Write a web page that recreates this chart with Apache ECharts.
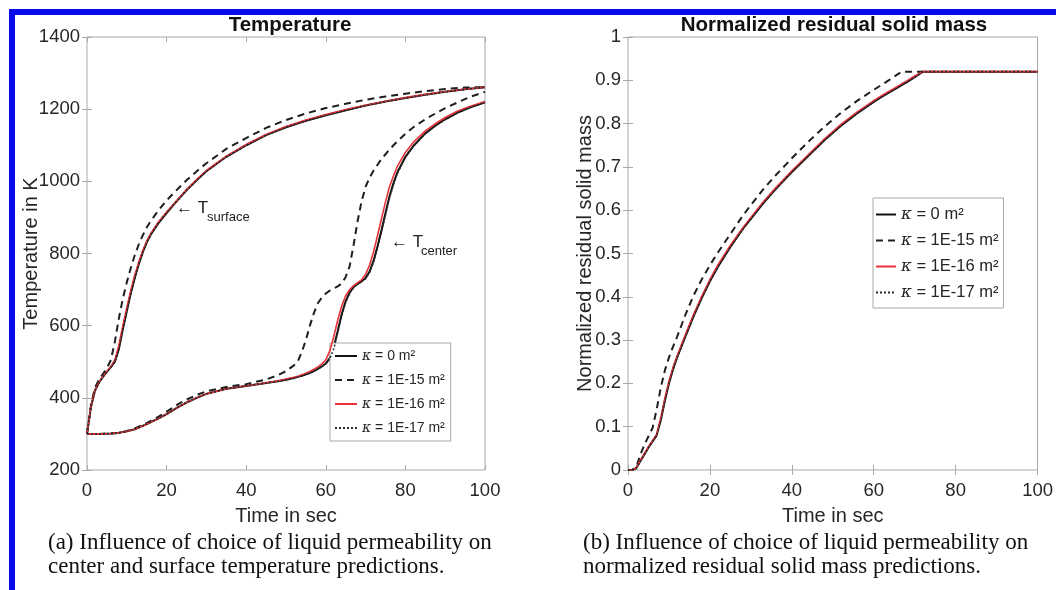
<!DOCTYPE html>
<html>
<head>
<meta charset="utf-8">
<script src="https://cdn.jsdelivr.net/npm/echarts@6/dist/echarts.min.js"></script>
<style>
  html, body { margin: 0; padding: 0; background: #fff; }
  #chart { width: 1056px; height: 590px; }
</style>
</head>
<body>
<div id="chart"></div>
<script>
// Permeability cases shown in both panels
const kappaValues = ['0', '1E-15', '1E-16', '1E-17'];

// Panel (a): surface temperature [K] vs time [s]
const tSurface = [0,1,2,3,4,5,6,7,8,9,10,11,12,13,14,15,16,18,20,22,25,28,30,35,40,45,50,55,60,65,70,75,80,85,90,95,100];
const surfK0   = [300,375,420,442,458,472,485,500,535,590,640,690,732,770,803,830,852,885,912,938,975,1008,1028,1068,1100,1128,1150,1168,1183,1197,1210,1221,1231,1240,1248,1255,1261];
const surfK15  = [300,380,428,450,466,482,505,555,620,675,720,760,795,825,850,872,890,920,947,970,1003,1032,1050,1090,1120,1148,1170,1188,1203,1215,1226,1235,1243,1250,1256,1260,1261];
const surfK16  = [300,376,421,443,459,473,487,505,545,600,650,698,740,776,808,834,855,888,915,940,977,1010,1030,1070,1102,1130,1152,1170,1185,1199,1211,1222,1232,1241,1249,1255,1261];
const surfK17  = [300,375,420,442,458,472,485,501,536,591,641,691,733,771,804,831,853,886,913,939,976,1008,1028,1068,1100,1128,1150,1168,1183,1197,1210,1221,1231,1240,1248,1255,1261];

// Panel (a): center temperature [K] vs time [s]
const tCenter  = [0,3,6,8,10,12,15,18,20,23,25,28,30,35,40,45,48,50,52,53,54,55,56,57,58,59,60,61,62,63,64,65,66,67,68,69,70,71,72,73,74,75,76,77,78,80,82,85,88,90,93,96,100];
const centK0   = [300,300,301,303,307,313,327,343,355,375,387,402,411,425,433,441,446,450,455,458,461,465,469,474,480,487,495,510,540,585,632,668,692,707,716,723,732,750,780,820,865,912,958,995,1025,1068,1098,1133,1158,1172,1190,1204,1219];
const centK15  = [300,300,301,303,308,315,330,348,362,383,395,410,418,430,438,451,463,474,490,502,528,560,600,635,662,678,689,697,703,709,717,735,765,825,890,945,985,1010,1030,1046,1062,1075,1088,1100,1111,1132,1150,1172,1191,1203,1218,1233,1248];
const centK16  = [300,300,301,303,307,313,327,343,355,375,387,402,411,425,433,442,447,452,457,460,464,468,473,479,486,494,505,530,570,615,655,683,700,711,719,727,742,768,805,850,897,943,985,1015,1042,1080,1108,1140,1163,1177,1194,1207,1221];
const centK17  = [300,300,301,303,307,313,327,343,355,375,387,402,411,425,433,441,446,450,455,458,461,465,469,474,480,486,494,508,536,580,627,665,690,706,715,722,730,747,776,815,860,907,953,991,1022,1066,1097,1132,1157,1171,1189,1204,1219];

// Panel (b): normalized residual solid mass vs time [s]
const tMass    = [0,1,2,3,4,5,6,7,8,9,10,11,12,14,16,18,20,22,25,28,30,33,36,40,44,48,52,56,60,62,64,66,67,68,70,72,75,80,90,100];
const massK0   = [0,0,0.004,0.02,0.036,0.052,0.066,0.08,0.115,0.16,0.2,0.233,0.26,0.308,0.355,0.397,0.436,0.47,0.515,0.556,0.58,0.616,0.648,0.688,0.725,0.762,0.795,0.824,0.85,0.862,0.873,0.884,0.89,0.895,0.907,0.92,0.92,0.92,0.92,0.92];
const massK15  = [0,0,0.006,0.035,0.058,0.078,0.097,0.14,0.19,0.23,0.26,0.285,0.308,0.358,0.403,0.44,0.473,0.503,0.545,0.587,0.612,0.648,0.68,0.72,0.758,0.793,0.825,0.853,0.878,0.89,0.902,0.915,0.92,0.92,0.92,0.92,0.92,0.92,0.92,0.92];
const massK16  = [0,0,0.005,0.022,0.038,0.054,0.068,0.083,0.12,0.166,0.205,0.237,0.264,0.312,0.359,0.401,0.44,0.474,0.519,0.559,0.583,0.619,0.651,0.691,0.728,0.765,0.798,0.827,0.853,0.865,0.876,0.887,0.893,0.898,0.91,0.92,0.92,0.92,0.92,0.92];
const massK17  = [0,0,0.004,0.02,0.036,0.052,0.066,0.08,0.115,0.16,0.2,0.233,0.26,0.308,0.355,0.397,0.436,0.47,0.515,0.556,0.58,0.616,0.648,0.688,0.725,0.762,0.795,0.824,0.85,0.862,0.873,0.884,0.89,0.895,0.907,0.92,0.92,0.92,0.92,0.92];

// Axis ticks
const timeTicks = { min: 0, max: 100, interval: 20 };
const tempTicks = { min: 200, max: 1400, interval: 200 };
const massTicks = { min: 0, max: 1, interval: 0.1 };

const SANS = '"Liberation Sans", Arial, sans-serif';
const SERIF = '"Liberation Serif", "DejaVu Serif", serif';
const TXT = '#262626';
const FRAME = '#a9a9a9';

const names = kappaValues.map(v => 'κ = ' + v + ' m²');
const styles = [
  { color: '#111111', width: 2, type: 'solid' },
  { color: '#1f1f1f', width: 2, type: [7, 5] },
  { color: '#e8323a', width: 1.6, type: 'solid' },
  { color: '#2a2a2a', width: 1.5, type: [2, 2] }
];

const zip = (xs, ys) => xs.map((x, i) => [x, ys[i]]);
const plainNum = v => String(Math.round(v * 1000) / 1000);

function axisPair(ticks, pos, grid, main, extra) {
  return Object.assign({
    type: 'value', gridIndex: grid, position: pos,
    min: ticks.min, max: ticks.max, interval: ticks.interval,
    axisLine: { show: false },
    axisTick: { show: true, inside: true, length: 5, lineStyle: { color: FRAME } },
    splitLine: { show: false },
    nameMoveOverlap: false,
    axisLabel: main
      ? { show: true, color: TXT, fontSize: 18.5, fontFamily: SANS, margin: (pos === 'bottom' ? 11 : 7), formatter: plainNum }
      : { show: false }
  }, extra || {});
}

const nameStyle = { color: TXT, fontSize: 20, fontFamily: SANS };

const xAxes = [
  axisPair(timeTicks, 'bottom', 0, true, { name: 'Time in sec', nameLocation: 'middle', nameGap: 36, nameTextStyle: nameStyle }),
  axisPair(timeTicks, 'top', 0, false),
  axisPair(timeTicks, 'bottom', 1, true, { name: 'Time in sec', nameLocation: 'middle', nameGap: 36, nameTextStyle: nameStyle }),
  axisPair(timeTicks, 'top', 1, false)
];
const yAxes = [
  axisPair(tempTicks, 'left', 0, true, { name: 'Temperature in K', nameLocation: 'middle', nameGap: 46, nameTextStyle: nameStyle }),
  axisPair(tempTicks, 'right', 0, false),
  axisPair(massTicks, 'left', 1, true, { name: 'Normalized residual solid mass', nameLocation: 'middle', nameGap: 33, nameTextStyle: nameStyle }),
  axisPair(massTicks, 'right', 1, false)
];

const series = [];
function addLine(idx, data, axis) {
  series.push({
    name: names[idx], type: 'line', data: data,
    xAxisIndex: axis, yAxisIndex: axis,
    symbol: 'none', smooth: false,
    lineStyle: { color: styles[idx].color, width: styles[idx].width, type: styles[idx].type },
    itemStyle: { color: styles[idx].color },
    z: 2 + idx
  });
}
const surfSets = [surfK0, surfK15, surfK16, surfK17];
const centSets = [centK0, centK15, centK16, centK17];
const massSets = [massK0, massK15, massK16, massK17];
for (let i = 0; i < 4; i++) {
  addLine(i, zip(tSurface, surfSets[i]), 0);
  addLine(i, zip(tCenter, centSets[i]), 0);
  addLine(i, zip(tMass, massSets[i]), 2);
}

function legendAt(left, top, gap, size, iconW, pad) {
  return {
    orient: 'vertical', left: left, top: top,
    itemWidth: iconW, itemHeight: 14, itemGap: gap,
    padding: pad,
    borderColor: FRAME, borderWidth: 1, backgroundColor: '#ffffff',
    selectedMode: false,
    data: names,
    formatter: n => '{k|κ}{t|' + n.slice(1) + '}',
    itemStyle: { opacity: 0, borderWidth: 0 },
    lineStyle: { type: 'inherit', opacity: 1 },
    textStyle: {
      color: TXT, fontFamily: SANS, fontSize: size,
      rich: {
        k: { fontFamily: '"DejaVu Serif", serif', fontStyle: 'italic', fontSize: size, color: TXT },
        t: { fontFamily: SANS, fontSize: size, color: TXT }
      }
    }
  };
}

function label(text, x, y, size, opts) {
  return {
    type: 'text', x: x, y: y, silent: true,
    style: Object.assign({ text: text, fill: '#111', font: size + 'px ' + SANS, textVerticalAlign: 'middle' }, opts || {})
  };
}

const graphics = [
  // page frame
  { type: 'rect', shape: { x: 9, y: 9, width: 1047, height: 6 }, style: { fill: '#0a0aee' }, silent: true },
  { type: 'rect', shape: { x: 9, y: 9, width: 6, height: 581 }, style: { fill: '#0a0aee' }, silent: true },
  // panel titles
  label('Temperature', 290, 25, 20.5, { font: 'bold 20.5px ' + SANS, textAlign: 'center' }),
  label('Normalized residual solid mass', 834, 25, 20.5, { font: 'bold 20.5px ' + SANS, textAlign: 'center' }),
  // curve annotations
  label('← T', 176, 208, 17, { fill: '#222' }),
  label('surface', 207, 217, 13, { fill: '#222' }),
  label('← T', 391, 242, 17, { fill: '#222' }),
  label('center', 421, 251, 13, { fill: '#222' }),
  // captions
  label('(a) Influence of choice of liquid permeability on', 48, 543, 23, { font: '23px ' + SERIF }),
  label('center and surface temperature predictions.', 48, 567, 23, { font: '23px ' + SERIF }),
  label('(b) Influence of choice of liquid permeability on', 583, 543, 23, { font: '23px ' + SERIF }),
  label('normalized residual solid mass predictions.', 583, 567, 23, { font: '23px ' + SERIF })
];

const chart = echarts.init(document.getElementById('chart'), null, { renderer: 'canvas' });
chart.setOption({
  animation: false,
  backgroundColor: '#ffffff',
  grid: [
    { left: 87, top: 37, width: 398, height: 433, show: true, borderColor: FRAME, borderWidth: 1 },
    { left: 628, top: 37, width: 412, height: 433, show: true, borderColor: FRAME, borderWidth: 1 }
  ],
  xAxis: xAxes,
  yAxis: yAxes,
  legend: [
    legendAt(330, 343, 10, 14, 22, [6, 6, 6, 4]),
    legendAt(873, 198, 9, 16.5, 20, [8, 5, 7, 2])
  ],
  series: series,
  graphic: graphics
});
</script>
</body>
</html>
